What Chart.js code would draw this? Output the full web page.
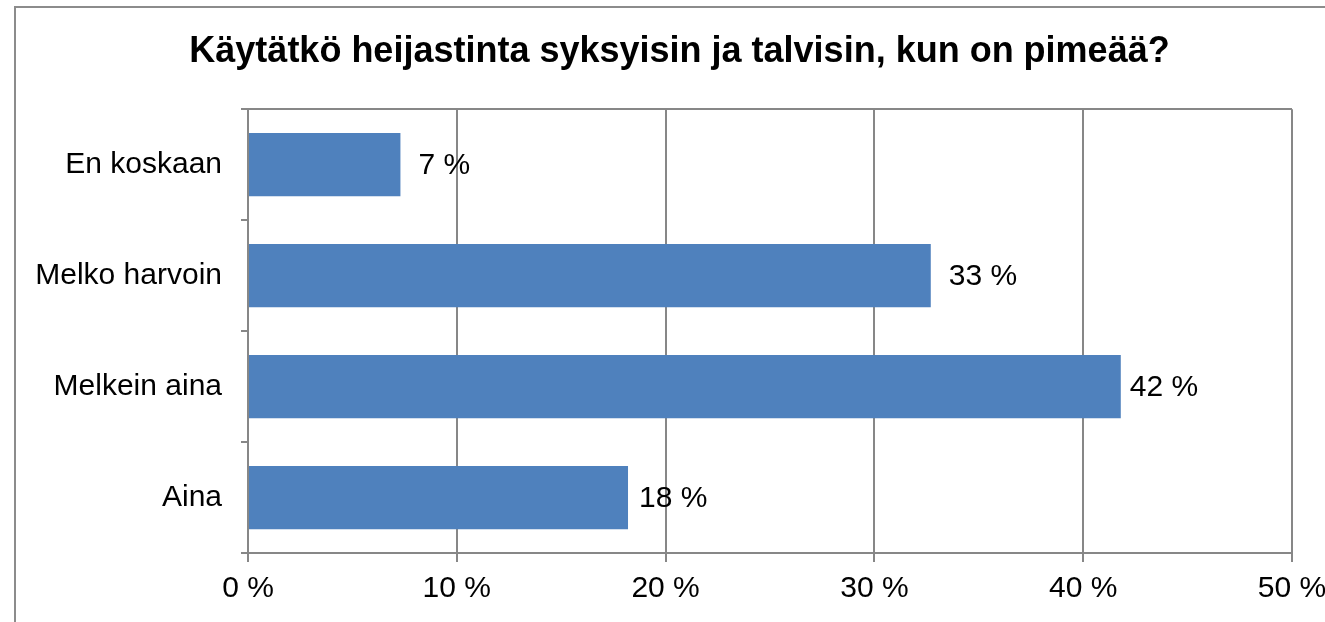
<!DOCTYPE html>
<html>
<head>
<meta charset="utf-8">
<script src="https://cdn.jsdelivr.net/npm/chart.js@4.4.1/dist/chart.umd.min.js"></script>
<style>
  html, body { margin: 0; padding: 0; background: #fff; }
  #wrap { position: relative; width: 1325px; height: 622px; overflow: hidden; }
  #frame { position: absolute; left: 14px; top: 6px; width: 1400px; height: 700px; border: 2px solid #8c8c8c; box-sizing: border-box; }
  canvas { position: absolute; left: 0; top: 0; }
</style>
</head>
<body>
<div id="wrap">
  <div id="frame"></div>
  <canvas id="c" width="1325" height="622"></canvas>
</div>
<script>
// ---- data ----
const titleText = 'Käytätkö heijastinta syksyisin ja talvisin, kun on pimeää?';
const categories = ['En koskaan', 'Melko harvoin', 'Melkein aina', 'Aina'];
const values = [7.3, 32.7, 41.8, 18.2];
const valueLabels = ['7 %', '33 %', '42 %', '18 %'];
const xTicks = [0, 10, 20, 30, 40, 50];

// ---- styles ----
const barColor = '#4f81bd';
const gridColor = '#878787';
const fontFamily = '"Liberation Sans", Arial, sans-serif';
const labelGap = [18, 18, 9, 11];

const valueLabelPlugin = {
  id: 'valueLabels',
  afterDatasetsDraw(chart) {
    const ctx = chart.ctx;
    const meta = chart.getDatasetMeta(0);
    ctx.save();
    ctx.font = '30px ' + fontFamily;
    ctx.fillStyle = '#000';
    ctx.textAlign = 'left';
    ctx.textBaseline = 'middle';
    meta.data.forEach((bar, i) => {
      ctx.fillText(valueLabels[i], bar.x + labelGap[i], bar.y + 1);
    });
    ctx.restore();
  }
};

new Chart(document.getElementById('c'), {
  type: 'bar',
  data: {
    labels: categories,
    datasets: [{
      data: values,
      backgroundColor: barColor,
      borderWidth: 0,
      categoryPercentage: 1.0,
      barPercentage: 0.57
    }]
  },
  plugins: [valueLabelPlugin],
  options: {
    indexAxis: 'y',
    responsive: false,
    animation: false,
    devicePixelRatio: 1,
    layout: { padding: { left: 34, right: 0, top: 0, bottom: 0 } },
    plugins: {
      legend: { display: false },
      tooltip: { enabled: false },
      title: {
        display: true,
        text: titleText,
        color: '#000',
        font: { family: fontFamily, size: 36, weight: 'bold', lineHeight: 1.2 },
        padding: { top: 30, bottom: 36 }
      }
    },
    scales: {
      x: {
        min: 0,
        max: 50,
        afterBuildTicks(scale) { scale.ticks = xTicks.map(v => ({ value: v })); },
        afterFit(scale) { scale.height = 69; scale.paddingRight = 33; scale.paddingLeft = 0; },
        border: { display: true, color: gridColor, width: 2 },
        grid: {
          color: gridColor,
          lineWidth: 2,
          drawTicks: true,
          tickLength: 9,
          tickColor: gridColor
        },
        ticks: {
          color: '#000',
          padding: 9,
          maxRotation: 0,
          font: { family: fontFamily, size: 30 },
          callback: v => v + ' %'
        }
      },
      y: {
        afterFit(scale) { scale.width = 214; },
        border: { display: true, color: gridColor, width: 2 },
        grid: {
          offset: true,
          lineWidth: 2,
          color: ctx => (ctx.index === 0 ? gridColor : 'rgba(0,0,0,0)'),
          tickColor: gridColor,
          drawTicks: true,
          tickLength: 7
        },
        ticks: {
          color: '#000',
          padding: 19,
          font: { family: fontFamily, size: 30 }
        }
      }
    }
  }
});
</script>
</body>
</html>
